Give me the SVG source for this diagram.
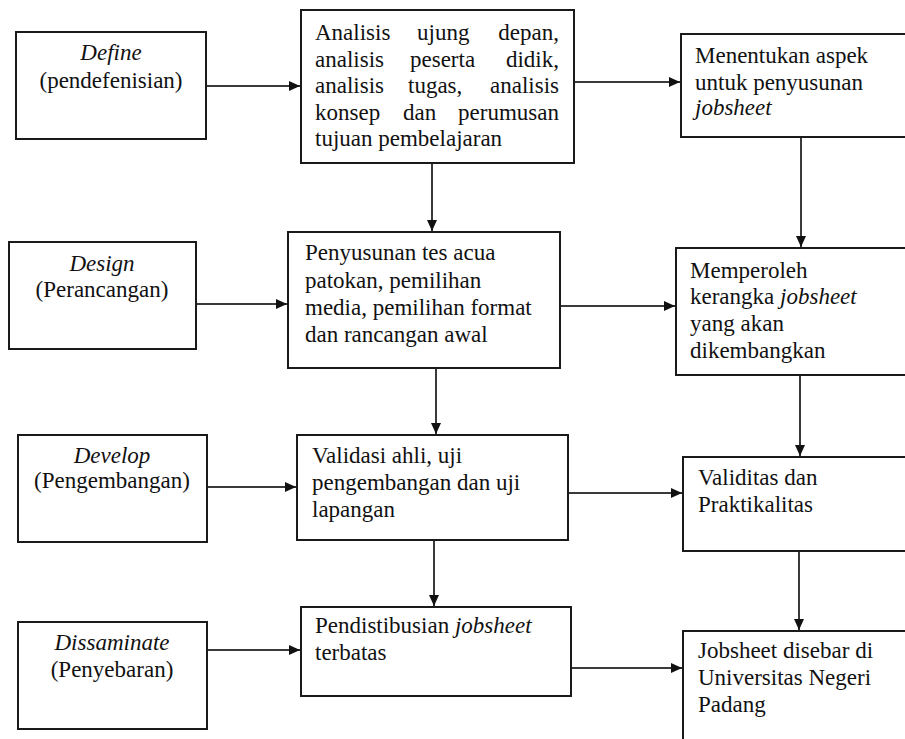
<svg xmlns="http://www.w3.org/2000/svg" width="905" height="739" viewBox="0 0 905 739">
<style>
.box{fill:#fff;stroke:#1a1a1a;stroke-width:2}
.t{font-family:"Liberation Serif","Times New Roman",serif;font-size:23px;fill:#111}
.i{font-style:italic}
.c{text-anchor:middle}
.e{text-anchor:end}
.con{stroke:#3a3a3a;stroke-width:2;fill:none;marker-end:url(#ah)}
</style>
<defs>
<marker id="ah" markerUnits="userSpaceOnUse" markerWidth="12" markerHeight="11" refX="11" refY="5" orient="auto">
<path d="M0,0 L11,5 L0,10 z" fill="#111"/>
</marker>
</defs>
<rect width="905" height="739" fill="#fff"/>

<g id="connectors">
<line class="con" x1="206" y1="86" x2="300" y2="86"/>
<line class="con" x1="570" y1="82" x2="680" y2="82"/>
<line class="con" x1="432" y1="163" x2="432" y2="231"/>
<line class="con" x1="801" y1="133" x2="801" y2="247"/>
<line class="con" x1="196" y1="304" x2="287" y2="304"/>
<line class="con" x1="560" y1="306" x2="675" y2="306"/>
<line class="con" x1="436" y1="368" x2="436" y2="434"/>
<line class="con" x1="800" y1="375" x2="800" y2="456"/>
<line class="con" x1="207" y1="487" x2="296" y2="487"/>
<line class="con" x1="568" y1="493" x2="682" y2="493"/>
<line class="con" x1="434" y1="540" x2="434" y2="606"/>
<line class="con" x1="799" y1="551" x2="799" y2="630"/>
<line class="con" x1="207" y1="650" x2="300" y2="650"/>
<line class="con" x1="570" y1="668" x2="682" y2="668"/>
</g>

<g id="define">
<rect class="box" x="16" y="32" width="190" height="107"/>
<text class="t i c" x="111" y="60">Define</text>
<text class="t c" x="111" y="88">(pendefenisian)</text>
</g>

<g id="design">
<rect class="box" x="9" y="242" width="187" height="107"/>
<text class="t i c" x="102" y="271">Design</text>
<text class="t c" x="102" y="297">(Perancangan)</text>
</g>

<g id="develop">
<rect class="box" x="18" y="435" width="189" height="107"/>
<text class="t i c" x="112" y="463">Develop</text>
<text class="t c" x="112" y="488">(Pengembangan)</text>
</g>

<g id="dissaminate">
<rect class="box" x="18" y="622" width="189" height="107"/>
<text class="t i c" x="112" y="650">Dissaminate</text>
<text class="t c" x="112" y="677">(Penyebaran)</text>
</g>

<g id="analisis">
<rect class="box" x="301" y="10" width="273" height="153"/>
<text class="t" x="315" y="40">Analisis</text>
<text class="t" x="417" y="40">ujung</text>
<text class="t e" x="559" y="40">depan,</text>
<text class="t" x="315" y="67">analisis</text>
<text class="t" x="410" y="67">peserta</text>
<text class="t e" x="559" y="67">didik,</text>
<text class="t" x="315" y="93">analisis</text>
<text class="t" x="408" y="93">tugas,</text>
<text class="t e" x="559" y="93">analisis</text>
<text class="t" x="315" y="120">konsep</text>
<text class="t" x="403" y="120">dan</text>
<text class="t e" x="559" y="120">perumusan</text>
<text class="t" x="315" y="146">tujuan pembelajaran</text>
</g>

<g id="penyusunan">
<rect class="box" x="288" y="232" width="272" height="136"/>
<text class="t" x="305" y="260">Penyusunan tes acua</text>
<text class="t" x="305" y="288">patokan, pemilihan</text>
<text class="t" x="305" y="315">media, pemilihan format</text>
<text class="t" x="305" y="342">dan rancangan awal</text>
</g>

<g id="validasi">
<rect class="box" x="297" y="435" width="271" height="105"/>
<text class="t" x="312" y="463">Validasi ahli, uji</text>
<text class="t" x="312" y="490">pengembangan dan uji</text>
<text class="t" x="312" y="517">lapangan</text>
</g>

<g id="pendistribusian">
<rect class="box" x="301" y="607" width="270" height="89"/>
<text class="t" x="315" y="633">Pendistibusian <tspan class="i">jobsheet</tspan></text>
<text class="t" x="315" y="660">terbatas</text>
</g>

<g id="menentukan">
<rect class="box" x="681" y="34" width="240" height="103"/>
<text class="t" x="695" y="63">Menentukan aspek</text>
<text class="t" x="695" y="90">untuk penyusunan</text>
<text class="t i" x="695" y="115">jobsheet</text>
</g>

<g id="memperoleh">
<rect class="box" x="676" y="248" width="245" height="127"/>
<text class="t" x="690" y="278">Memperoleh</text>
<text class="t" x="690" y="304">kerangka <tspan class="i">jobsheet</tspan></text>
<text class="t" x="690" y="331">yang akan</text>
<text class="t" x="690" y="358">dikembangkan</text>
</g>

<g id="validitas">
<rect class="box" x="683" y="457" width="238" height="94"/>
<text class="t" x="698" y="485">Validitas dan</text>
<text class="t" x="698" y="512">Praktikalitas</text>
</g>

<g id="jobsheet">
<rect class="box" x="683" y="631" width="238" height="120"/>
<text class="t" x="698" y="658">Jobsheet disebar di</text>
<text class="t" x="698" y="685">Universitas Negeri</text>
<text class="t" x="698" y="712">Padang</text>
</g>
</svg>
